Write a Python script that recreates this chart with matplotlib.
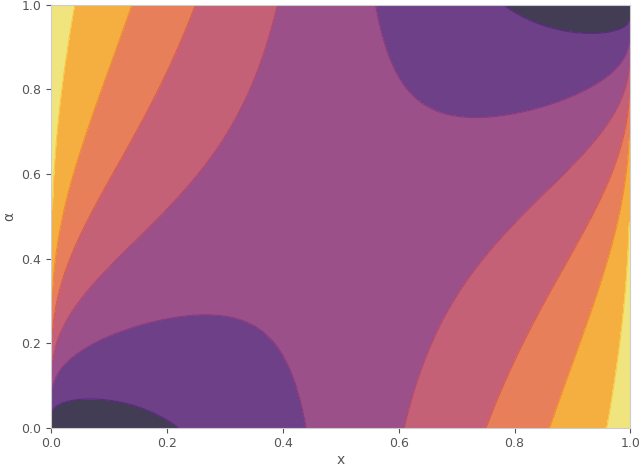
import numpy as np
import matplotlib
matplotlib.use("Agg")
import matplotlib.pyplot as plt

# contour levels (cross-entropy values at band boundaries)
levels_inner = [0.248, 0.58, 0.94, 1.39, 1.97, 3.2]
band_colors = ["#423c54", "#6d4088", "#9b5089", "#c56176", "#e77f5b", "#f5ae40", "#f0e47e"]
line_colors = ["#5a2a80", "#8a3a80", "#b04870", "#d85a50", "#f08a30", "#f8c840"]
ticks = [0.0, 0.2, 0.4, 0.6, 0.8, 1.0]

x = np.linspace(0.002, 0.998, 400)
a = np.linspace(0, 1, 400)
X, A = np.meshgrid(x, a)
Z = -A * np.log(X) - (1 - A) * np.log(1 - X)
levels = [0.0] + levels_inner + [Z.max() + 1]

fig, ax = plt.subplots(figsize=(6.4, 4.7), dpi=100)
ax.contourf(X, A, Z, levels=levels, colors=band_colors)
ax.contour(X, A, Z, levels=levels_inner, colors=line_colors, linewidths=0.8)
ax.set_xlim(0, 1)
ax.set_ylim(0, 1)
ax.set_xticks(ticks)
ax.set_yticks(ticks)
ax.set_xlabel("x", color="#555555", labelpad=2)
ax.set_ylabel("α", color="#555555")
ax.tick_params(colors="#555555", labelsize=9)
for s in ax.spines.values():
    s.set_color("#cccccc")
fig.subplots_adjust(left=0.08, right=0.985, bottom=0.09, top=0.99)
fig.savefig("out.png")
